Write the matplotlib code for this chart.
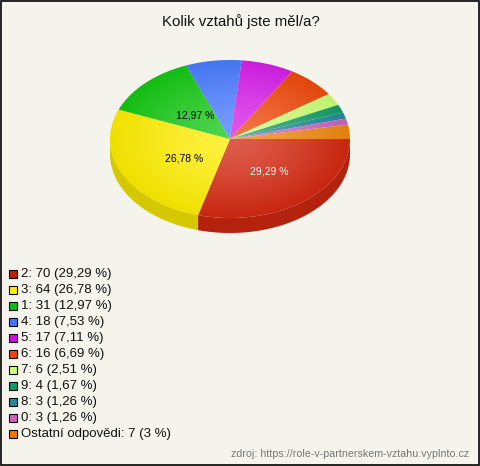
import numpy as np
import matplotlib
matplotlib.use('Agg')
import matplotlib.pyplot as plt
from matplotlib.patches import Polygon, Rectangle
from matplotlib.colors import to_rgb

plt.rcParams['font.family'] = ['Liberation Sans', 'DejaVu Sans']

# data
names = ['2', '3', '1', '4', '5', '6', '7', '9', '8', '0', 'Ostatní odpovědi']
counts = [70, 64, 31, 18, 17, 16, 6, 4, 3, 3, 7]
pct_text = ['29,29 %', '26,78 %', '12,97 %', '7,53 %', '7,11 %', '6,69 %',
            '2,51 %', '1,67 %', '1,26 %', '1,26 %', '3 %']
colors = ['#d42810', '#ffee00', '#14c814', '#4a7cff', '#d820ea', '#f04a0c',
          '#ccff77', '#159e68', '#228a9c', '#c866c4', '#ee8811']
legend_colors = ['#bb2200', '#ffee00', '#11bb11', '#4477ff', '#cc11dd', '#ee4411',
                 '#ccff77', '#119966', '#228899', '#cc66bb', '#ee7700']
title = 'Kolik vztahů jste měl/a?'
source = 'zdroj: https://role-v-partnerskem-vztahu.vyplnto.cz'

W, H = 480, 466
fig = plt.figure(figsize=(W / 100, H / 100), dpi=100, facecolor='#f4f4ec')
ax = fig.add_axes([0, 0, 1, 1])
ax.set_xlim(0, W)
ax.set_ylim(H, 0)
ax.axis('off')

# pie geometry (pixels)
cx, cy, rx, ry, depth = 230, 139, 120, 79, 15
vals = np.array(counts, dtype=float)
ang = np.concatenate([[0], np.cumsum(vals / vals.sum() * 360)])


def darken(c, f):
    return tuple(np.array(to_rgb(c)) * f)


def lighten(c, f):
    c = np.array(to_rgb(c))
    return tuple(c + (1 - c) * f)


# sides
for i in range(len(vals)):
    a, b = max(ang[i], 0), min(ang[i + 1], 180)
    if b <= a:
        continue
    t = np.radians(np.linspace(a, b, 60))
    xs = cx + rx * np.cos(t)
    ys = cy + ry * np.sin(t)
    pts = np.vstack([np.column_stack([xs, ys]),
                     np.column_stack([xs[::-1], ys[::-1] + depth])])
    ax.add_patch(Polygon(pts, closed=True, facecolor=darken(colors[i], 0.84),
                         edgecolor='none', zorder=2))

# top with radial gradient
gy, gx = np.mgrid[cy - ry:cy + ry:200j, cx - rx:cx + rx:300j]
r = np.clip(np.sqrt(((gx - cx) / rx) ** 2 + ((gy - cy) / ry) ** 2), 0, 1) ** 1.3
for i in range(len(vals)):
    t = np.radians(np.linspace(ang[i], ang[i + 1], 80))
    pts = np.vstack([[cx, cy], np.column_stack([cx + rx * np.cos(t), cy + ry * np.sin(t)])])
    poly = Polygon(pts, closed=True, facecolor='none', edgecolor='none', zorder=3)
    ax.add_patch(poly)
    light = np.array(lighten(colors[i], 0.25))
    dark = np.array(darken(colors[i], 0.94))
    img = light[None, None, :] * (1 - r[..., None]) + dark[None, None, :] * r[..., None]
    im = ax.imshow(img, extent=(cx - rx, cx + rx, cy + ry, cy - ry), origin='upper',
                   zorder=3, interpolation='bilinear', aspect='auto')
    im.set_clip_path(poly)

# labels on big slices
for i in range(len(vals)):
    if vals[i] / vals.sum() < 0.1:
        continue
    mid = np.radians((ang[i] + ang[i + 1]) / 2)
    lx = cx + 0.47 * rx * np.cos(mid) + 5
    ly = cy + 0.47 * ry * np.sin(mid) + 3
    ax.text(lx, ly, pct_text[i], ha='center', va='center', fontsize=7.5,
            color='white' if i == 0 else 'black', zorder=5)

ax.set_xlim(0, W)
ax.set_ylim(H, 0)

ax.text(241, 22, title, ha='center', va='center', fontsize=10.8, color='#111111')

# legend
for i in range(len(names)):
    y = 274 + i * 16
    ax.add_patch(Rectangle((8.5, y - 4), 8, 8, facecolor=legend_colors[i],
                           edgecolor='black', linewidth=0.8, zorder=5))
    ax.text(21, y, '%s: %d (%s)' % (names[i], counts[i], pct_text[i]),
            ha='left', va='center', fontsize=9.5, color='#111111')

ax.text(469, 454, source, ha='right', va='center', fontsize=7.7, color='#777777')

ax.add_patch(Rectangle((0.5, 0.5), W - 2, H - 2, facecolor='none', edgecolor='black',
                       linewidth=1.2, zorder=10))

fig.savefig('out.png', dpi=100, facecolor=fig.get_facecolor())
